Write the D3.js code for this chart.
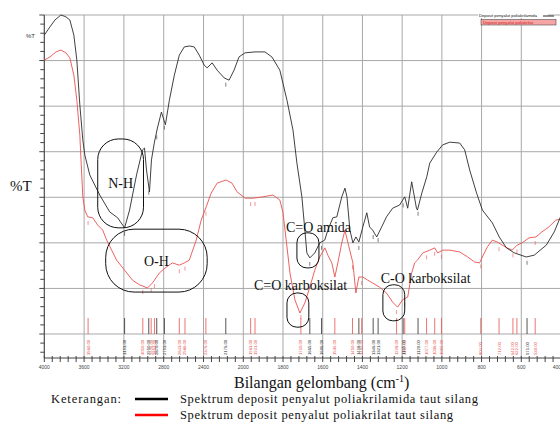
<!DOCTYPE html>
<html>
<head>
<meta charset="utf-8">
<script src="https://cdn.jsdelivr.net/npm/d3@7/dist/d3.min.js"></script>
<style>
  body { margin: 0; background: #fff; }
  svg { display: block; }
</style>
</head>
<body>
<div id="chart"></div>
<script>
// *** data (wavenumber cm-1, %T) ***
var wnTicks = [4000, 3600, 3200, 2800, 2400, 2000, 1800, 1600, 1400, 1200, 1000, 800, 600, 400];
var tGrid = [0, 10, 20, 30, 40, 50, 60, 70];

// poliakrilamida taut silang (black)
var amideWn = [4000, 3943, 3893, 3833, 3783, 3743, 3703, 3673, 3643, 3613, 3593, 3543, 3443, 3343, 3263, 3193,
  3143, 3073, 3013, 2993, 2973, 2943, 2923, 2893, 2863, 2823, 2783, 2743, 2693, 2643, 2593, 2543, 2493, 2443,
  2393, 2363, 2313, 2263, 2193, 2143, 2093, 2043, 1991, 1941, 1891, 1856, 1816, 1780, 1750, 1730, 1705, 1690,
  1680, 1665, 1640, 1615, 1590, 1574, 1549, 1529, 1504, 1488, 1478, 1463, 1448, 1433, 1418, 1398, 1378, 1364,
  1349, 1328, 1303, 1279, 1248, 1213, 1187, 1172, 1152, 1128, 1123, 1101, 1076, 1061, 1026, 996, 960, 910,
  885, 860, 825, 796, 746, 711, 675, 635, 575, 535, 474, 434, 400];
var amideT = [65.6, 67.4, 68.9, 70.0, 69.6, 68.9, 65.6, 60.1, 50.3, 42.6, 39.3, 34.9, 30.5, 26.8, 25.5, 23.3,
  27.2, 34.9, 40.4, 40.8, 36.0, 31.2, 38.2, 42.1, 45.2, 48.7, 45.9, 51.3, 56.8, 61.2, 63.0, 63.2, 63.0, 61.2,
  59.0, 58.4, 59.5, 57.9, 56.2, 55.7, 57.9, 60.8, 61.7, 61.9, 61.9, 60.8, 57.9, 51.3, 44.8, 37.5, 30.1, 22.8,
  17.8, 16.7, 17.8, 20.0, 20.6, 22.8, 25.5, 25.7, 30.1, 32.0, 30.1, 22.8, 20.0, 21.3, 20.2, 23.5, 26.6, 23.5,
  22.8, 21.3, 23.5, 25.7, 27.6, 28.3, 30.1, 27.6, 33.4, 27.6, 27.2, 30.9, 34.5, 37.5, 39.9, 41.5, 42.1, 41.9,
  40.4, 36.0, 30.9, 27.2, 24.4, 21.3, 18.9, 17.8, 16.9, 17.3, 19.5, 22.4, 26.0];

// poliakrilat taut silang (red)
var acrylWn = [4000, 3943, 3883, 3833, 3783, 3743, 3703, 3673, 3643, 3626, 3613, 3593, 3563, 3513, 3463, 3413,
  3373, 3323, 3273, 3193, 3113, 3043, 2963, 2913, 2843, 2773, 2713, 2643, 2593, 2543, 2473, 2423, 2373, 2323,
  2263, 2173, 2113, 2063, 1991, 1951, 1901, 1851, 1816, 1800, 1780, 1765, 1740, 1715, 1690, 1665, 1640, 1615,
  1589, 1574, 1554, 1539, 1524, 1504, 1488, 1473, 1448, 1433, 1418, 1398, 1373, 1349, 1314, 1279, 1248, 1223,
  1198, 1172, 1152, 1137, 1123, 1096, 1061, 1036, 1021, 996, 960, 910, 870, 835, 810, 796, 771, 746, 722, 696,
  671, 646, 621, 596, 561, 526, 496, 461, 426, 400];
var acrylT = [60.1, 60.8, 61.9, 62.3, 61.7, 60.6, 56.8, 51.3, 43.7, 36.0, 30.1, 27.2, 25.7, 25.5, 23.9, 22.8,
  20.6, 18.4, 16.2, 14.0, 11.8, 10.8, 10.1, 11.2, 13.4, 14.7, 15.6, 15.1, 15.6, 16.2, 20.6, 25.0, 27.9, 30.9,
  33.1, 33.8, 33.1, 31.2, 29.8, 29.8, 30.1, 30.5, 29.4, 26.6, 19.1, 13.4, 7.5, 4.6, 6.8, 10.3, 14.0, 16.9,
  18.9, 17.3, 15.6, 12.5, 15.6, 20.0, 22.8, 20.0, 15.6, 9.0, 12.5, 12.5, 11.8, 11.2, 10.3, 9.0, 7.0, 5.9,
  7.5, 8.1, 13.4, 15.6, 16.2, 17.8, 18.4, 18.9, 17.8, 18.4, 18.4, 18.0, 16.9, 15.8, 15.6, 16.9, 19.1, 20.6, 20.2, 19.5,
  18.9, 18.4, 19.5, 20.0, 21.1, 21.3, 22.4, 23.5, 25.0, 25.2];

// peak tables printed by the instrument
var amidePeaks = [3193, 2950, 2870, 2793, 2176, 1665, 1606, 1418, 1346, 1321, 1195, 1120, 571];
var acrylPeaks = [3560, 3010, 2926, 2893, 2643, 2586, 2376, 1963, 1941, 1710, 1539, 1450, 1404, 1228, 1187,
  1077, 1036, 1002, 804, 712, 642, 622, 530];

// annotated bands
var bandLabels = ["N-H", "O-H", "C=O amida", "C=O karboksilat", "C-O karboksilat"];
var bandWn = [[3463, 3003], [3383, 2363], [1730, 1619], [1780, 1670], [1297, 1187]];
var bandT = [[42.8, 23.3], [23.0, 9.2], [22.2, 14.5], [9.0, 1.5], [10.8, 2.9]];
var bandTextAt = [null, null, [1785, 22.4], [1946, 9.7], [1308, 11.2]];

var legendNames = ["Spektrum deposit penyalut poliakrilamida taut silang",
  "Spektrum deposit penyalut poliakrilat taut silang"];

var BLACK = "#2a2a2a", RED = "#e8504f";
var SERIF = "'Liberation Serif', 'DejaVu Serif', serif";
var SANS = "'Liberation Sans', Arial, sans-serif";

var W = 560, H = 423;
var svg = d3.select("#chart").append("svg").attr("width", W).attr("height", H);

// x axis changes scale at 2000 cm-1 like the instrument print
var x = d3.scaleLinear().domain([4000, 2000, 400]).range([44.3, 243.3, 561]);
var y = d3.scaleLinear().domain([0, 70]).range([334, 15]);
var yBottom = y(-5.27);

// *** grid ***
var grid = svg.append("g").attr("stroke", "#a8a8a8").attr("stroke-width", 1);
grid.selectAll("line.v").data(wnTicks).enter().append("line")
  .attr("x1", function(d) { return x(d); }).attr("x2", function(d) { return x(d); })
  .attr("y1", y(70)).attr("y2", yBottom);
grid.selectAll("line.h").data(tGrid).enter().append("line")
  .attr("x1", x(4000)).attr("x2", W)
  .attr("y1", function(d) { return y(d); }).attr("y2", function(d) { return y(d); });

// *** axes ***
var minor = d3.range(4000, 2000, -80).concat(d3.range(2000, 399, -40));
var xAxis = svg.append("g").attr("transform", "translate(0," + yBottom + ")");
xAxis.append("line").attr("x1", x(4000)).attr("x2", W).attr("stroke", "#444");
xAxis.selectAll("line.t").data(minor).enter().append("line")
  .attr("x1", function(d) { return x(d); }).attr("x2", function(d) { return x(d); })
  .attr("y1", -2).attr("y2", 4).attr("stroke", "#444");
xAxis.selectAll("text").data(wnTicks).enter().append("text")
  .attr("x", function(d) { return x(d); }).attr("y", 11)
  .attr("text-anchor", function(d, i) { return i === wnTicks.length - 1 ? "end" : "middle"; })
  .attr("font-size", 5).attr("fill", "#444").attr("font-family", SANS)
  .text(function(d) { return d; });

var yAxis = svg.append("g").attr("transform", "translate(" + x(4000) + ",0)");
yAxis.append("line").attr("y1", y(70)).attr("y2", yBottom).attr("stroke", "#444");
yAxis.selectAll("line.t").data(d3.range(-4, 71, 2)).enter().append("line")
  .attr("y1", function(d) { return y(d); }).attr("y2", function(d) { return y(d); })
  .attr("x1", function(d) { return d % 10 === 0 ? -5 : -4; }).attr("x2", 0)
  .attr("stroke", "#444");
svg.append("text").attr("x", 26).attr("y", 38).attr("font-size", 6).attr("fill", "#333")
  .attr("font-family", SANS).text("%T");

// *** spectra ***
function pairs(wn, t) { return wn.map(function(d, i) { return [d, t[i]]; }); }
var amide = pairs(amideWn, amideT), acryl = pairs(acrylWn, acrylT);
var line = d3.line().x(function(d) { return x(d[0]); }).y(function(d) { return y(d[1]); });

svg.append("path").datum(acryl).attr("d", line)
  .attr("fill", "none").attr("stroke", RED).attr("stroke-width", 0.9);
svg.append("path").datum(amide).attr("d", line)
  .attr("fill", "none").attr("stroke", BLACK).attr("stroke-width", 0.9);

// value of a spectrum at a wavenumber (for the peak marks under the curve)
function valueAt(data, wn) {
  for (var i = 0; i < data.length - 1; i++) {
    var a = data[i], b = data[i + 1];
    if (wn <= a[0] && wn >= b[0]) {
      var f = (a[0] - wn) / (a[0] - b[0]);
      return a[1] + f * (b[1] - a[1]);
    }
  }
  return data[data.length - 1][1];
}

function peaks(list, data, color) {
  var g = svg.append("g");
  // little mark below the curve
  g.selectAll("line.m").data(list).enter().append("line")
    .attr("x1", function(d) { return x(d); }).attr("x2", function(d) { return x(d); })
    .attr("y1", function(d) { return y(valueAt(data, d)) + 4; })
    .attr("y2", function(d) { return y(valueAt(data, d)) + 8; })
    .attr("stroke", color).attr("stroke-width", 0.6);
  // bar and rotated number in the peak table strip
  g.selectAll("line.p").data(list).enter().append("line")
    .attr("x1", function(d) { return x(d); }).attr("x2", function(d) { return x(d); })
    .attr("y1", y(3.5)).attr("y2", y(0))
    .attr("stroke", color).attr("stroke-width", 0.8);
  g.selectAll("text").data(list).enter().append("text")
    .attr("transform", function(d) { return "translate(" + (x(d) + 1.5) + "," + (y(-4.6)) + ") rotate(-90)"; })
    .attr("font-size", 4.2).attr("fill", color).attr("font-family", SANS)
    .text(function(d) { return d.toFixed(2); });
}
peaks(acrylPeaks, acryl, RED);
peaks(amidePeaks, amide, BLACK);

// *** band annotations ***
var ann = svg.append("g");
bandLabels.forEach(function(label, i) {
  var x0 = x(bandWn[i][0]), x1 = x(bandWn[i][1]);
  var y0 = y(bandT[i][0]), y1 = y(bandT[i][1]);
  var w = x1 - x0, h = y1 - y0;
  ann.append("rect").attr("x", x0).attr("y", y0).attr("width", w).attr("height", h)
    .attr("rx", Math.min(w, h) * 0.45).attr("ry", Math.min(w, h) * 0.45)
    .attr("fill", "none").attr("stroke", "#111").attr("stroke-width", 1);
  var t = ann.append("text").attr("font-size", 14).attr("fill", "#111")
    .attr("font-family", SERIF).text(label);
  if (bandTextAt[i]) {
    t.attr("x", x(bandTextAt[i][0])).attr("y", y(bandTextAt[i][1]));
  } else {
    t.attr("x", (x0 + x1) / 2).attr("y", (y0 + y1) / 2 + 5).attr("text-anchor", "middle");
  }
});

// *** small instrument legend in the corner ***
var lg = svg.append("g").attr("font-family", SANS).attr("font-size", 4.2);
lg.append("rect").attr("x", 478).attr("y", 12.5).attr("width", 70).attr("height", 5.5).attr("fill", "#fff");
lg.append("text").attr("x", 479).attr("y", 17).attr("fill", "#111").text("Deposit penyalut poliakrilamida");
lg.append("line").attr("x1", 543).attr("x2", 554).attr("y1", 16).attr("y2", 16).attr("stroke", BLACK);
lg.append("rect").attr("x", 481).attr("y", 19.5).attr("width", 75).attr("height", 5.5)
  .attr("fill", "#f6a5a5").attr("stroke", "#333").attr("stroke-width", 0.5);
lg.append("text").attr("x", 483).attr("y", 24).attr("fill", "#c22").text("Deposit penyalut poliakrilat");

// *** titles ***
svg.append("text").attr("x", 10).attr("y", 191).attr("font-size", 15).attr("fill", "#111")
  .attr("font-family", SERIF).text("%T");
var xt = svg.append("text").attr("x", 234).attr("y", 388).attr("font-size", 16).attr("fill", "#111")
  .attr("font-family", SERIF);
xt.append("tspan").text("Bilangan gelombang (cm");
xt.append("tspan").attr("dy", -6).attr("font-size", 10).text("-1");
xt.append("tspan").attr("dy", 6).text(")");

// *** bottom legend ***
svg.append("text").attr("x", 51).attr("y", 403).attr("font-size", 12.5).attr("fill", "#111")
  .attr("font-family", SERIF).attr("textLength", 70).attr("lengthAdjust", "spacing").text("Keterangan:");
var legendColors = ["#000", "#ff0000"];
var legendLen = [298, 273];
legendNames.forEach(function(name, i) {
  var yy = 399 + i * 16;
  svg.append("line").attr("x1", 135).attr("x2", 168).attr("y1", yy).attr("y2", yy)
    .attr("stroke", legendColors[i]).attr("stroke-width", 2.5);
  svg.append("text").attr("x", 180).attr("y", yy + 4).attr("font-size", 12.5).attr("fill", "#111")
    .attr("font-family", SERIF).attr("textLength", legendLen[i]).attr("lengthAdjust", "spacing")
    .text(name);
});
</script>
</body>
</html>
